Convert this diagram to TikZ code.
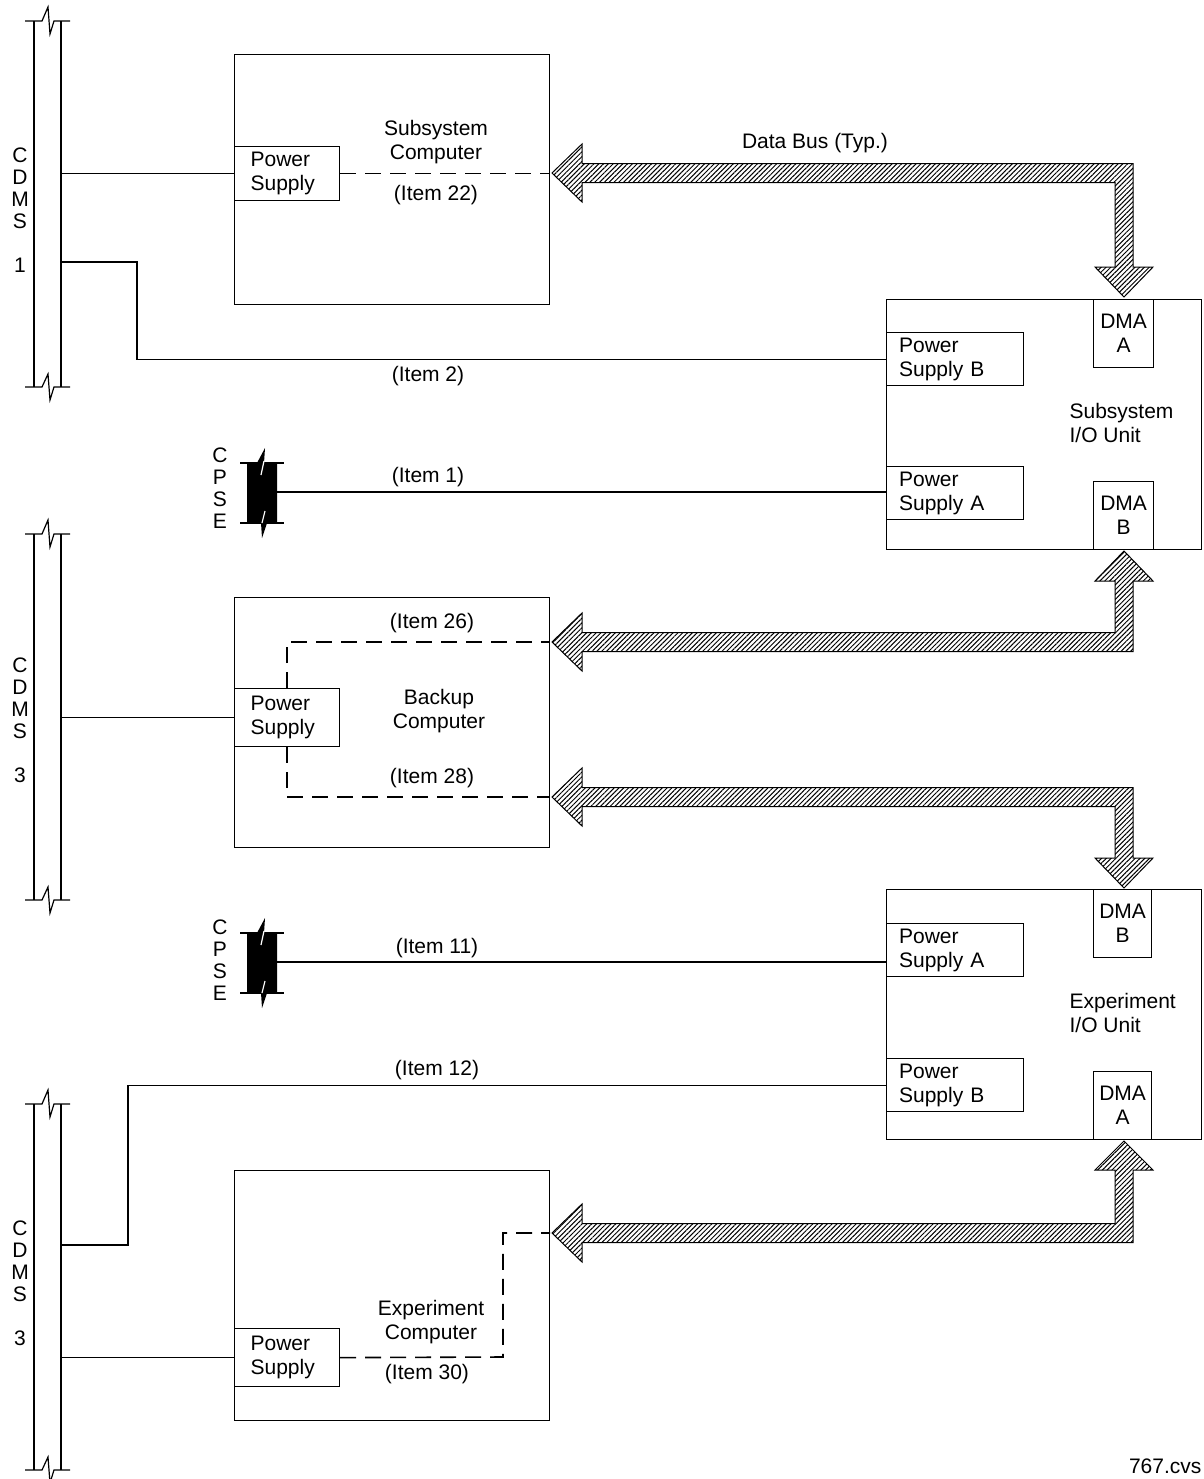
\documentclass[tikz,border=0pt]{standalone}
\usepackage{fontspec}
\setmainfont{Liberation Sans}
\usetikzlibrary{patterns.meta}

\begin{document}
\begin{tikzpicture}[
        x=0.5pt, y=-0.5pt, line width=0.6pt,
        font=\fontsize{10.5}{12}\selectfont,
        unit/.style={draw, anchor=north west, minimum width=157.5pt, minimum height=125pt, inner sep=0pt},
        psbox/.style={draw, anchor=north west, minimum width=52.5pt, minimum height=#1, text width=36.5pt, inner xsep=8pt, inner ysep=0pt, align=left},
        psbox/.default=29pt,
        iops/.style={draw, anchor=north west, minimum width=68.5pt, minimum height=26.5pt, text width=56pt, inner xsep=6pt, inner ysep=0pt, align=left},
        dma/.style={draw, anchor=north west, minimum width=30pt, minimum height=34pt, align=center, inner sep=0pt},
        note/.style={align=center, inner sep=0pt},
        vtext/.style={align=center, inner sep=0pt, font=\fontsize{10.5}{11}\selectfont},
        dline/.style={line width=0.8pt, dash pattern=on 8pt off 4.5pt},
        databus/.style={draw, line width=0.5pt, pattern={Lines[angle=45, distance=1.7pt, line width=0.5pt]}}
    ]

    \useasboundingbox (0,0) rectangle (1204,1479);

    % CDMS buses
    \foreach \y/\n in {21/1, 534/2, 1104/3} {
        \draw (34,\y) -- (34,{\y+366});
        \draw (61,\y) -- (61,{\y+366});
        \draw (25,\y) -- (42,\y) -- (48,{\y-14}) -- (50,{\y+13}) -- (54,\y) -- (70,\y);
        \draw (25,{\y+366}) -- (42,{\y+366}) -- (48,{\y+353}) -- (50,{\y+379}) -- (54,{\y+366}) -- (70,{\y+366});
        \coordinate (cdms\n) at (61,\y);
    }
    \node[vtext] (cdmslab1) at (20,210) {C\\D\\M\\S\\[11pt]1};
    \node[vtext] (cdmslab2) at (20,720) {C\\D\\M\\S\\[11pt]3};
    \node[vtext] (cdmslab3) at (20,1283) {C\\D\\M\\S\\[11pt]3};

    % CPSE feeds
    \foreach \y/\n in {463/1, 933/2} {
        \draw (240,\y) -- (284,\y) (240,{\y+60}) -- (284,{\y+60});
        \fill (247,\y) -- (257,\y) -- (265,{\y-15}) -- (264,\y) -- (277,\y) -- (277,{\y+60})
            -- (267,{\y+60}) -- (262,{\y+75}) -- (261,{\y+60}) -- (247,{\y+60}) -- cycle;
        \draw[white, line width=0.6pt] (264,{\y-2}) -- (261,{\y+12}) (265,{\y+48}) -- (262,{\y+60});
        \coordinate (cpse\n) at (277,{\y+29});
    }
    \node[vtext] (cpselab1) at (220,488) {C\\P\\S\\E};
    \node[vtext] (cpselab2) at (220,960) {C\\P\\S\\E};

    % computers
    \node[unit] (subcomp) at (234,54) {};
    \node[psbox=27pt] (ps1) at (234,146) {Power\\Supply};
    \node[note] (subcomplab) at (436,142) {Subsystem\\Computer};
    \node[note] (item22) at (436,195) {(Item 22)};

    \node[unit] (bkcomp) at (234,597) {};
    \node[psbox] (ps2) at (234,688) {Power\\Supply};
    \node[note] (bkcomplab) at (439,711) {Backup\\Computer};
    \node[note] (item26) at (432,623) {(Item 26)};
    \node[note] (item28) at (432,778) {(Item 28)};

    \node[unit] (excomp) at (234,1170) {};
    \node[psbox] (ps3) at (234,1328) {Power\\Supply};
    \node[note] (excomplab) at (431,1322) {Experiment\\Computer};
    \node[note] (item30) at (427,1374) {(Item 30)};

    % I/O units
    \node[unit] (sio) at (886,299) {};
    \node[iops] (psB1) at (886,332) {Power\\Supply B};
    \node[iops] (psA1) at (886,466) {Power\\Supply A};
    \node[dma] (dmaA1) at (1093,299) {DMA\\A};
    \node[dma] (dmaB1) at (1093,481) {DMA\\B};
    \node[note, anchor=west, align=left] (siolab) at (1069,423) {Subsystem\\I/O Unit};

    \node[unit] (eio) at (886,889) {};
    \node[iops] (psA2) at (886,923) {Power\\Supply A};
    \node[iops] (psB2) at (886,1058) {Power\\Supply B};
    \node[dma, minimum width=29pt] (dmaB2) at (1093,889) {DMA\\B};
    \node[dma, minimum width=29pt] (dmaA2) at (1093,1071) {DMA\\A};
    \node[note, anchor=west, align=left] (eiolab) at (1069,1013) {Experiment\\I/O Unit};

    % power feeds
    \draw (cdms1 |- ps1.west) -- (ps1.west);
    \draw (cdms1 |- 0,262) -- (137,262) |- (psB1.west);
    \node[note] (item2) at (428,376) {(Item 2)};
    \draw (cpse1) -- (cpse1 -| psA1.west);
    \node[note] (item1) at (428,477) {(Item 1)};
    \draw (cdms2 |- ps2.west) -- (ps2.west);
    \draw (cpse2) -- (cpse2 -| psA2.west);
    \node[note] (item11) at (437,948) {(Item 11)};
    \draw (cdms3 |- 0,1245) -- (128,1245) |- (psB2.west);
    \node[note] (item12) at (437,1070) {(Item 12)};
    \draw (cdms3 |- ps3.west) -- (ps3.west);

    % internal data lines
    \draw[dline] (ps1.east) -- (subcomp.east |- ps1.east);
    \draw[dline] (ps2.north) |- (bkcomp.east |- 0,642);
    \draw[dline] (ps2.south) |- (bkcomp.east |- 0,797);
    \draw[dline] (ps3.east) -- (503,1357) |- (excomp.east |- 0,1233);

    % data buses
    \foreach \sy/\by/\ty/\s in {173/267/297/1, 642/581/551/-1, 797/858/888/1, 1233/1170/1141/-1} {
        \draw[databus] (552,\sy) -- (582,{\sy-29}) -- (582,{\sy-9.5}) -- ({1124+9*\s},{\sy-9.5})
            -- ({1124+9*\s},\by) -- ({1124+29*\s},\by) -- (1124,\ty) -- ({1124-29*\s},\by)
            -- ({1124-9*\s},\by) -- ({1124-9*\s},{\sy+9.5}) -- (582,{\sy+9.5}) -- (582,{\sy+29}) -- cycle;
    }
    \node[note] (buslab) at (815,143) {Data Bus (Typ.)};

    \node[note, anchor=east] (figref) at (1202,1466) {767.cvs};

\end{tikzpicture}
\end{document}
